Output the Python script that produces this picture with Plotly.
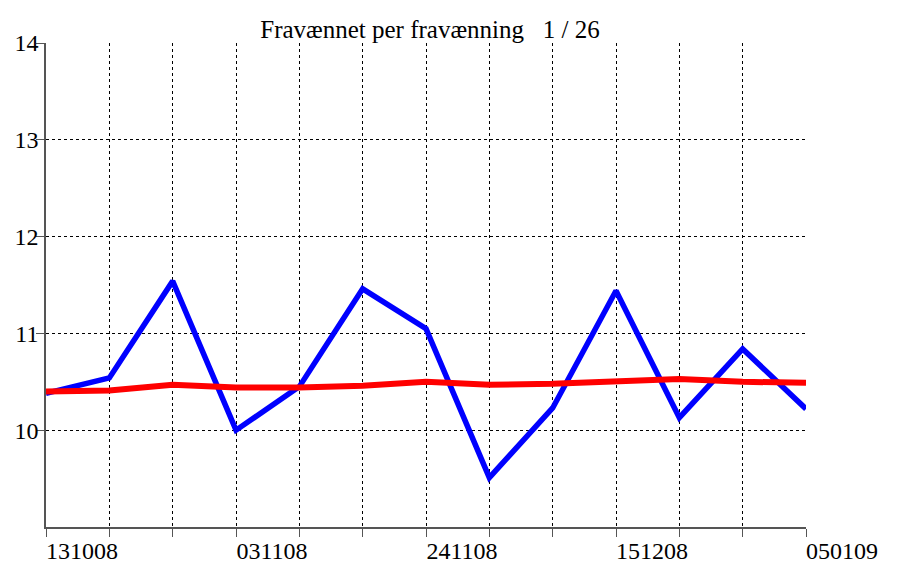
import plotly.graph_objects as go

weeks = ["131008", "201008", "271008", "031108", "101108", "171108", "241108",
         "011208", "081208", "151208", "221208", "291208", "050109"]
weekly = [10.38, 10.54, 11.54, 10.00, 10.45, 11.46, 11.05, 9.51, 10.23, 11.44, 10.13, 10.84, 10.22]
average = [10.40, 10.41, 10.47, 10.44, 10.44, 10.46, 10.50, 10.47, 10.48, 10.50, 10.53, 10.50, 10.49]
y_ticks = [10, 11, 12, 13, 14]
title_text = "Fravænnet per fravænning   1 / 26"

idx = list(range(len(weeks)))
tick_text = [w if i % 3 == 0 else "" for i, w in enumerate(weeks)]

fig = go.Figure()
fig.add_trace(go.Scatter(x=idx, y=weekly, mode="lines",
                         line=dict(color="#0000FF", width=5.5), cliponaxis=False))
fig.add_trace(go.Scatter(x=idx, y=average, mode="lines",
                         line=dict(color="#FF0000", width=6), cliponaxis=False))

W, H = 885, 557
font_family = "Liberation Serif, Times New Roman, serif"
fig.update_layout(
    width=W, height=H,
    margin=dict(l=38, r=87, t=35, b=38, autoexpand=False),
    paper_bgcolor="white", plot_bgcolor="white",
    showlegend=False,
    title=dict(text=title_text, x=422 / W, xanchor="center", xref="container",
               y=1 - 21 / H, yanchor="middle", yref="container",
               font=dict(family=font_family, size=25, color="black")),
    font=dict(family=font_family, size=24, color="black"),
)
fig.update_xaxes(
    range=[0, 12], tickvals=idx, ticktext=tick_text, automargin=False,
    ticks="outside", ticklen=8, tickcolor="#555555", tickwidth=1,
    showline=True, linecolor="#555555", linewidth=1.5,
    showgrid=True, gridcolor="black", gridwidth=1, griddash="3px,3px",
    zeroline=False, ticklabelshift=36, ticklabelstandoff=-7,
    tickfont=dict(family=font_family, size=24, color="black"),
)
fig.update_yaxes(
    range=[9, 14], tickvals=y_ticks, automargin=False,
    ticks="outside", ticklen=8, tickcolor="#555555", tickwidth=1,
    showline=True, linecolor="#555555", linewidth=1.5,
    showgrid=True, gridcolor="black", gridwidth=1, griddash="3px,3px",
    zeroline=False, ticklabelstandoff=-7,
    tickfont=dict(family=font_family, size=24, color="black"),
)
fig.write_html("out.html")
